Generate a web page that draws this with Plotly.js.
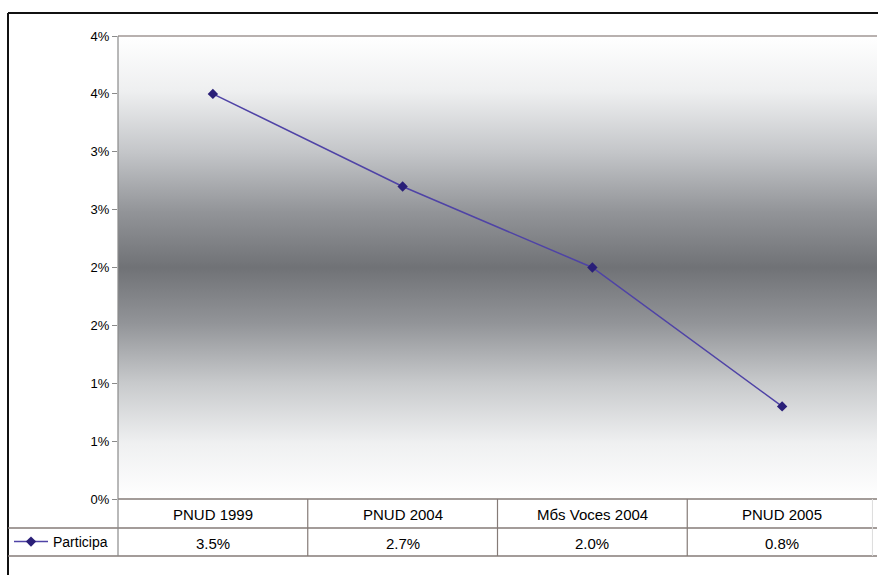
<!DOCTYPE html>
<html>
<head>
<meta charset="utf-8">
<script src="https://cdn.plot.ly/plotly-3.0.1.min.js"></script>
<style>html,body{margin:0;padding:0;background:#fff;}#chart{width:878px;height:575px;}</style>
</head>
<body>
<div id="chart"></div>
<script>
var categories = ["PNUD 1999", "PNUD 2004", "Mбs Voces 2004", "PNUD 2005"];
var seriesName = "Participa";
var participa = [3.5, 2.7, 2.0, 0.8];
var yTickVals = [0, 0.5, 1, 1.5, 2, 2.5, 3, 3.5, 4];
var yTickText = ["0%", "1%", "1%", "2%", "2%", "3%", "3%", "4%", "4%"];

var W = 878, H = 575;
var M = {l: 118, r: 1, t: 36, b: 76};
var plotW = W - M.l - M.r, plotH = H - M.t - M.b;
function px2paperX(px) { return (px - M.l) / plotW; }
function px2paperY(py) { return (H - M.b - py) / plotH; }

var grad = '<svg xmlns="http://www.w3.org/2000/svg" width="100" height="100" preserveAspectRatio="none">' +
  '<defs><linearGradient id="g" x1="0" y1="0" x2="0" y2="1">' +
  '<stop offset="0" stop-color="#ffffff"/>' +
  '<stop offset="0.12" stop-color="#eeeff0"/>' +
  '<stop offset="0.25" stop-color="#c4c6c9"/>' +
  '<stop offset="0.38" stop-color="#929498"/>' +
  '<stop offset="0.5" stop-color="#707276"/>' +
  '<stop offset="0.62" stop-color="#929498"/>' +
  '<stop offset="0.75" stop-color="#c8cacc"/>' +
  '<stop offset="0.88" stop-color="#eff0f1"/>' +
  '<stop offset="1" stop-color="#ffffff"/>' +
  '</linearGradient></defs><rect width="100" height="100" fill="url(#g)"/></svg>';
var gradURI = 'data:image/svg+xml;charset=utf-8,' + encodeURIComponent(grad);

var trace = {
  x: categories,
  y: participa,
  type: 'scatter',
  mode: 'lines+markers',
  name: seriesName,
  line: {color: '#4f43a6', width: 1.5},
  marker: {symbol: 'diamond', size: 8, color: '#2a1f78'},
  cliponaxis: false
};

var font = {family: '"Liberation Sans", Arial, sans-serif', color: '#000000'};
var tableColor = '#857b77';
var leftX = px2paperX(8);
var row1Y = px2paperY(528), row2Y = px2paperY(556);

var shapes = [
  {type: 'line', xref: 'paper', yref: 'paper', x0: leftX, x1: 1.002, y0: px2paperY(13), y1: px2paperY(13), line: {color: '#111', width: 2}},
  {type: 'line', xref: 'paper', yref: 'paper', x0: leftX, x1: leftX, y0: px2paperY(13), y1: px2paperY(576), line: {color: '#111', width: 2}},
  {type: 'line', xref: 'paper', yref: 'paper', x0: 0, x1: 1, y0: 1, y1: 1, line: {color: '#a09794', width: 1.5}},
  {type: 'line', xref: 'paper', yref: 'paper', x0: 0, x1: 1, y0: 0, y1: 0, line: {color: tableColor, width: 1.5}},
  {type: 'line', xref: 'paper', yref: 'paper', x0: leftX, x1: 1, y0: row1Y, y1: row1Y, line: {color: tableColor, width: 1.5}},
  {type: 'line', xref: 'paper', yref: 'paper', x0: leftX, x1: 1, y0: row2Y, y1: row2Y, line: {color: tableColor, width: 1.5}}
];
for (var i = 0; i < categories.length; i++) {
  var xp = i / categories.length;
  shapes.push({type: 'line', xref: 'paper', yref: 'paper', x0: xp, x1: xp,
    y0: i === 0 ? 1 : 0, y1: row2Y, line: {color: i === 0 ? '#8a8a8a' : tableColor, width: 1.2}});
}
shapes.push({type: 'line', xref: 'paper', yref: 'paper', x0: 0.994, x1: 0.994, y0: 0, y1: row2Y,
  line: {color: '#dcdcdc', width: 1}});

var annotations = [];
categories.forEach(function (c, i) {
  annotations.push({x: c, xref: 'x', y: 0, yref: 'paper', yanchor: 'middle', yshift: -15,
    text: c, showarrow: false, font: Object.assign({size: 15}, font)});
  annotations.push({x: c, xref: 'x', y: 0, yref: 'paper', yanchor: 'middle', yshift: -44,
    text: participa[i].toFixed(1) + '%', showarrow: false, font: Object.assign({size: 15}, font)});
});

var layout = {
  width: W, height: H,
  margin: M,
  paper_bgcolor: '#ffffff',
  plot_bgcolor: 'rgba(0,0,0,0)',
  showlegend: true,
  legend: {x: px2paperX(9), xanchor: 'left', y: (row1Y + row2Y) / 2, yanchor: 'middle',
    bgcolor: 'rgba(0,0,0,0)', font: Object.assign({size: 14}, font), itemwidth: 34,
    tracegroupgap: 0},
  xaxis: {type: 'category', range: [-0.5, categories.length - 0.5], showticklabels: false,
    showgrid: false, zeroline: false, showline: false, ticks: '', fixedrange: true},
  yaxis: {range: [0, 4], tickvals: yTickVals, ticktext: yTickText, showgrid: false,
    zeroline: false, showline: false, ticks: 'outside', ticklen: 5, tickcolor: '#8a8a8a',
    tickfont: Object.assign({size: 13}, font), fixedrange: true},
  images: [{source: gradURI, xref: 'paper', yref: 'paper', x: 0, y: 1, sizex: 1, sizey: 1,
    sizing: 'stretch', xanchor: 'left', yanchor: 'top', layer: 'below'}],
  shapes: shapes,
  annotations: annotations
};

Plotly.newPlot('chart', [trace], layout, {displayModeBar: false, staticPlot: true});
</script>
</body>
</html>
